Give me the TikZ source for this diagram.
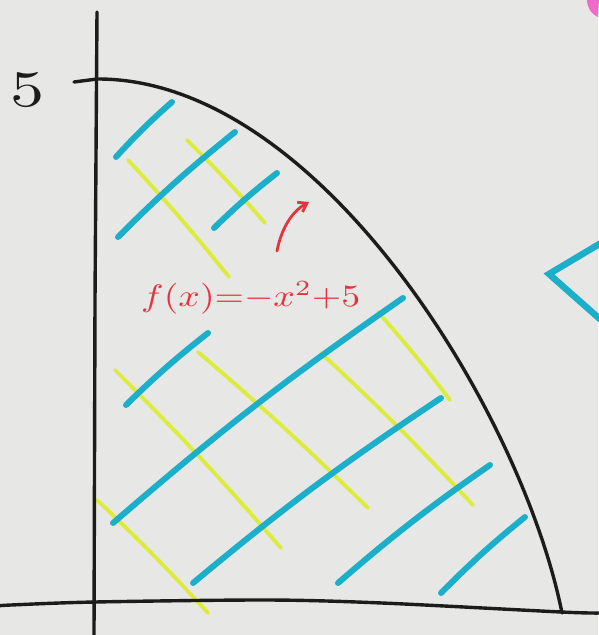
\documentclass[tikz,border=0pt]{standalone}
\usetikzlibrary{arrows.meta}
\definecolor{paper}{HTML}{E7E7E6}
\definecolor{ink}{HTML}{1C1C1C}
\definecolor{cyanpen}{HTML}{1CAFC9}
\definecolor{yellowpen}{HTML}{DDEB3A}
\definecolor{redpen}{HTML}{E5333D}
\definecolor{pinkpen}{HTML}{F06AC8}
\tikzset{
  axisline/.style={draw=ink, line width=3.4pt, line cap=round, line join=round},
  cyanstroke/.style={draw=cyanpen, line width=6pt, line cap=round},
  yellowstroke/.style={draw=yellowpen, line width=3.8pt, line cap=round},
  redstroke/.style={draw=redpen, line width=2.8pt, line cap=round},
  labeltext/.style={inner sep=0pt, text=redpen}
}
\begin{document}
\begin{tikzpicture}[x=1pt,y=-1pt]
\useasboundingbox (0,0) rectangle (598,635);
\fill[paper] (0,0) rectangle (598,635);
% corner marks
\fill[pinkpen] (587,-1) .. controls (587,7) and (590,13) .. (598,17) -- (599,-1) -- cycle;
\coordinate (b1) at (601,243);
\coordinate (b2) at (549,274);
\coordinate (b3) at (601,320);
\draw[draw=cyanpen, line width=6.5pt, line join=miter] (b1) -- (b2) -- (b3);
% yellow hatching
\coordinate (ya1) at (128,160); \coordinate (ya2) at (229,277);
\coordinate (yb1) at (187,140); \coordinate (yb2) at (265,223);
\coordinate (yc1) at (115,370); \coordinate (yc2) at (281,548);
\coordinate (yd1) at (198,352); \coordinate (yd2) at (368,508);
\coordinate (ye1) at (321,353); \coordinate (ye2) at (473,505);
\coordinate (yf1) at (378,312); \coordinate (yf2) at (450,400);
\coordinate (yg1) at (97,500);  \coordinate (yg2) at (208,613);
\foreach \s in {ya,yb,yc,yd,ye,yf,yg}
  \draw[yellowstroke] (\s1) to[bend left=2] (\s2);
% cyan hatching
\coordinate (c11) at (116,157); \coordinate (c12) at (172,102);
\coordinate (c21) at (118,237); \coordinate (c22) at (235,132);
\coordinate (c31) at (214,228); \coordinate (c32) at (277,173);
\coordinate (c41) at (126,405); \coordinate (c42) at (208,333);
\coordinate (c51) at (113,523); \coordinate (c52) at (403,298);
\coordinate (c61) at (193,583); \coordinate (c62) at (441,398);
\coordinate (c71) at (338,583); \coordinate (c72) at (490,465);
\coordinate (c81) at (441,593); \coordinate (c82) at (525,517);
\foreach \s in {c1,c2,c3,c4,c5,c6,c7,c8}
  \draw[cyanstroke] (\s1) to[bend left=3] (\s2);
% axes
\coordinate (ytop) at (97,12);
\coordinate (ybot) at (94,637);
\draw[axisline] (ytop) -- (95,300) -- (ybot);
\draw[axisline] plot[smooth] coordinates {(-2,606) (11,605) (95,602) (267,600) (382,603) (561,612) (600,613)};
% tick at 5 and curve
\coordinate (tick) at (74,82);
\coordinate (cstart) at (97,79);
\coordinate (cend) at (562,613);
\draw[axisline] (tick) -- (cstart);
\draw[axisline] (cstart) .. controls (318,78) and (522,412) .. (cend);
% labels
\node[inner sep=0pt, text=ink] (five) at (28,90) {\resizebox{34pt}{34pt}{5}};
\node[labeltext, anchor=west] (fx) at (141,298) {\resizebox*{219pt}{33pt}{$f(x){=}{-}x^2{+}5$}};
\coordinate (arrS) at (277,251);
\coordinate (arrE) at (309,202);
\draw[redstroke, -{Straight Barb[length=8pt,width=11pt]}] (arrS) .. controls (281,230) and (291,212) .. (arrE);
\end{tikzpicture}
\end{document}
